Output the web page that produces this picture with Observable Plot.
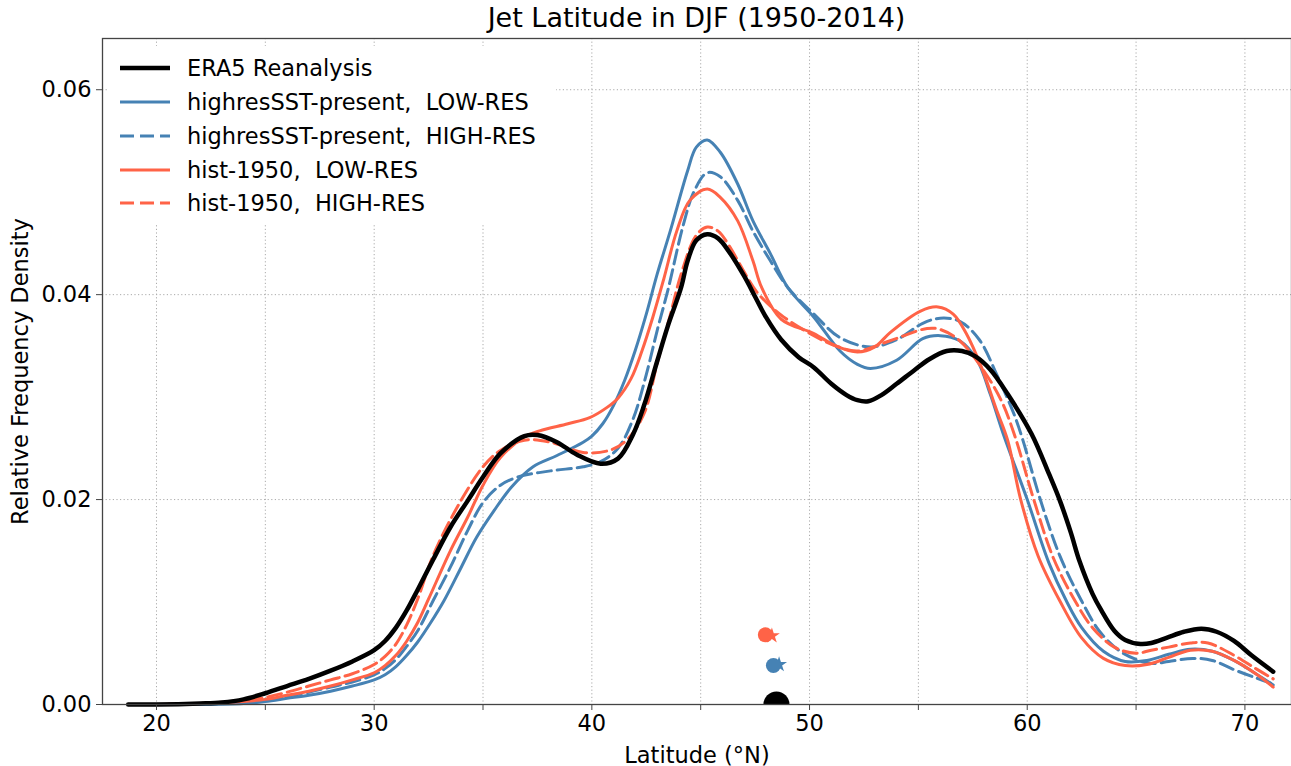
<!DOCTYPE html>
<html><head><meta charset="utf-8">
<script src="https://cdn.jsdelivr.net/npm/d3@7"></script>
<script src="https://cdn.jsdelivr.net/npm/@observablehq/plot@0.6"></script>
<style>
html,body{margin:0;padding:0;background:#fff;}
#wrap{position:relative;width:1291px;height:766px;font-family:"DejaVu Sans",sans-serif;color:#000;overflow:hidden;}
#title{position:absolute;left:102px;width:1189px;top:4px;text-align:center;font-size:27px;line-height:28px;white-space:pre;}
#legend{position:absolute;left:108px;top:46px;width:448px;height:178px;background:#fff;}
.row{position:absolute;left:0;height:24px;font-size:22.5px;line-height:24px;white-space:pre;}
.row svg{position:absolute;left:12px;top:7px;}
.row span{position:absolute;left:79px;top:0;}
</style></head><body>
<div id="wrap"><div id="plot"></div><div id="title">Jet Latitude in DJF (1950-2014)</div><div id="legend"></div></div>
<script>
// ---- data: [latitude (°N), relative frequency density] ----
const era5 = [[18.7,0],[20,0],[22,0.0001],[23,0.0002],[24,0.0005],[25,0.0011],[26,0.0018],[27,0.0025],[28,0.0033],[29,0.0042],[30,0.0053],[30.5,0.0062],[31,0.0075],[31.5,0.0092],[32,0.0112],[32.7,0.0141],[33.5,0.0173],[34.3,0.0199],[35,0.0222],[35.8,0.0245],[36.9,0.0262],[37.5,0.0263],[38.4,0.0256],[39.3,0.0244],[40.4,0.0235],[41.2,0.024],[41.9,0.0264],[42.4,0.0292],[43,0.0335],[43.5,0.037],[44.1,0.0407],[44.4,0.0433],[44.8,0.0453],[45.3,0.0459],[45.8,0.0455],[46.3,0.0442],[47,0.0418],[47.5,0.0398],[48,0.0378],[48.7,0.0356],[49.5,0.0339],[50.2,0.0329],[51,0.0313],[51.7,0.0302],[52.2,0.0297],[52.7,0.0296],[53.3,0.0302],[54,0.0313],[54.8,0.0326],[55.5,0.0337],[56.3,0.0345],[57,0.0345],[57.6,0.034],[58.3,0.0327],[59.1,0.0303],[60.2,0.0264],[61,0.0225],[61.5,0.0199],[62,0.0168],[62.4,0.014],[63,0.0108],[63.4,0.0092],[64,0.0072],[64.5,0.0063],[65.2,0.0059],[65.7,0.006],[66.4,0.0065],[67.2,0.0071],[68,0.0074],[68.7,0.0071],[69.5,0.0062],[70.3,0.0048],[71.3,0.0032]];
const hsLow = [[18.7,0],[20,0],[22,0],[24,0.0001],[25,0.0003],[26,0.0006],[27,0.0009],[28,0.0013],[29,0.0018],[30,0.0024],[30.5,0.0029],[31,0.0037],[31.5,0.0048],[32,0.0061],[32.6,0.008],[33.2,0.0101],[34,0.0134],[34.7,0.0163],[35.5,0.0189],[36.3,0.0212],[37.3,0.0232],[38.4,0.0243],[39.6,0.0256],[40,0.0262],[40.5,0.0274],[41,0.0292],[41.5,0.0316],[42,0.0346],[42.5,0.0381],[43,0.042],[43.6,0.0462],[44.4,0.0521],[44.8,0.0544],[45.3,0.0551],[45.9,0.0539],[46.7,0.0508],[47.4,0.0472],[48.2,0.044],[49,0.0407],[50.2,0.0378],[51.4,0.0345],[52.2,0.0332],[52.8,0.0328],[54,0.0336],[55.2,0.0357],[56,0.036],[56.9,0.0355],[57.7,0.0336],[58.3,0.0303],[58.9,0.0264],[60,0.02],[61,0.0138],[61.8,0.0101],[62.5,0.0075],[63.5,0.0052],[64.5,0.0042],[65.5,0.0043],[66.5,0.0049],[67.5,0.0054],[68.5,0.0052],[69.5,0.0043],[70.5,0.003],[71.3,0.0019]];
const hsHigh = [[18.7,0],[20,0],[22,0.0001],[24,0.0002],[25,0.0004],[26,0.0008],[27,0.0012],[28,0.0017],[29,0.0022],[30,0.0029],[30.5,0.0035],[31,0.0044],[31.5,0.0057],[32,0.0072],[32.7,0.0101],[33.5,0.0134],[34.3,0.017],[35,0.0197],[35.8,0.0214],[36.6,0.0222],[38.1,0.0228],[39.6,0.0232],[40.4,0.0237],[41.2,0.025],[41.9,0.0279],[42.5,0.0322],[43,0.0365],[43.5,0.0405],[44.2,0.0468],[44.7,0.0501],[45.3,0.0519],[45.9,0.0515],[46.7,0.0492],[47.4,0.0462],[48.2,0.0433],[49,0.0407],[50.2,0.0381],[51.4,0.0358],[52.8,0.0349],[54,0.0356],[55.2,0.0372],[56,0.0377],[56.9,0.0374],[57.8,0.0356],[58.6,0.0322],[59.4,0.0283],[59.8,0.0258],[60.6,0.02],[61.5,0.0145],[62.5,0.0101],[63.3,0.0072],[64.2,0.0053],[65,0.0044],[65.7,0.004],[66.5,0.0042],[67.6,0.0045],[68.5,0.0043],[69.5,0.0034],[70.5,0.0026],[71.3,0.002]];
const h50Low = [[18.7,0],[20,0],[22,0.0001],[24,0.0003],[25,0.0005],[26,0.0009],[27,0.0013],[28,0.0018],[29,0.0024],[30,0.0031],[30.5,0.0038],[31,0.0048],[31.5,0.0062],[32,0.008],[32.5,0.0103],[33.5,0.015],[34.3,0.0183],[35,0.0214],[35.8,0.0241],[36.9,0.0261],[37.6,0.0267],[38.9,0.0274],[39.9,0.028],[40.7,0.029],[41.2,0.0299],[41.8,0.0318],[42.3,0.0345],[42.8,0.0378],[43.3,0.0415],[43.9,0.0462],[44.5,0.0492],[45.3,0.0503],[45.9,0.0495],[46.7,0.0472],[47.4,0.0433],[47.8,0.0407],[48.7,0.0376],[50.2,0.0362],[51.2,0.035],[52.2,0.0344],[53,0.0349],[53.7,0.0363],[55.1,0.0384],[55.9,0.0388],[56.6,0.0381],[57.2,0.0362],[57.9,0.0329],[58.6,0.0287],[59.1,0.0258],[59.7,0.02],[60.5,0.0145],[61.5,0.0101],[62.5,0.0065],[63.5,0.0045],[64.5,0.0038],[65.5,0.0039],[66.5,0.0046],[67.5,0.0053],[68.5,0.0052],[69.5,0.0043],[70.5,0.003],[71.3,0.0017]];
const h50High = [[18.7,0],[20,0],[22,0.0001],[24,0.0004],[25,0.0007],[26,0.0012],[27,0.0018],[28,0.0024],[29,0.003],[30,0.0039],[30.5,0.0047],[31,0.0059],[31.5,0.0078],[32,0.0103],[32.7,0.0145],[33.8,0.0192],[35,0.0232],[35.8,0.0248],[36.9,0.0258],[38.1,0.0256],[39.6,0.0246],[40.8,0.0248],[41.6,0.0258],[42.4,0.0284],[43,0.0333],[43.6,0.038],[44.1,0.042],[44.8,0.0458],[45.3,0.0466],[45.8,0.0462],[46.3,0.0448],[47,0.0422],[47.6,0.0402],[48.7,0.038],[50.2,0.036],[51.2,0.035],[52.2,0.0345],[53.7,0.0355],[55.4,0.0367],[56,0.0366],[56.9,0.0355],[57.9,0.0329],[58.8,0.0297],[59.4,0.0264],[60.3,0.02],[61.2,0.0143],[62.2,0.0101],[63,0.0075],[64,0.0056],[65,0.005],[65.7,0.0053],[66.5,0.0056],[67.5,0.006],[68.3,0.006],[69.5,0.0048],[70.5,0.0035],[71.3,0.0025]];
// mean jet latitude markers
const era5Mean = [48.48, 0];
const hsLowMean = [48.34, 0.0038];
const hsHighMean = [48.6, 0.0039];
const h50LowMean = [47.97, 0.0068];
const h50HighMean = [48.27, 0.0067];
// ticks & labels
const xTicks = [20,25,30,35,40,45,50,55,60,65,70];
const yTicks = [0,0.02,0.04,0.06];
const legendLabels = ["ERA5 Reanalysis","highresSST-present,  LOW-RES","highresSST-present,  HIGH-RES","hist-1950,  LOW-RES","hist-1950,  HIGH-RES"];

const BLUE = "steelblue", RED = "tomato", DASH = "14,6";
const X = d => d[0], Y = d => d[1];
const lineOpts = (stroke, dashed, w=3) => ({x:X, y:Y, stroke, strokeWidth:w, curve:"catmull-rom", strokeDasharray: dashed ? DASH : null});

const chart = Plot.plot({
  width:1291, height:766, marginLeft:102, marginRight:0, marginTop:38, marginBottom:62,
  style:{fontFamily:'"DejaVu Sans", sans-serif', fontSize:"22.5px", background:"#fff", color:"#000", overflow:"visible"},
  x:{domain:[17.52,72.14]},
  y:{domain:[0,0.065]},
  marks:[
    Plot.gridX(xTicks, {stroke:"#aaa", strokeOpacity:1, strokeDasharray:"1.2,2.4", strokeWidth:1}),
    Plot.gridY(yTicks.slice(1), {stroke:"#aaa", strokeOpacity:1, strokeDasharray:"1.2,2.4", strokeWidth:1}),
    Plot.line(hsLow, lineOpts(BLUE,false)),
    Plot.line(hsHigh, lineOpts(BLUE,true)),
    Plot.line(h50Low, lineOpts(RED,false)),
    Plot.line(h50High, lineOpts(RED,true)),
    Plot.line(era5, lineOpts("black",false,4.5)),
    Plot.dot([hsHighMean], {x:X, y:Y, symbol:"star", r:5, fill:BLUE, stroke:"none"}),
    Plot.dot([h50HighMean], {x:X, y:Y, symbol:"star", r:5, fill:RED, stroke:"none"}),
    Plot.dot([hsLowMean], {x:X, y:Y, r:7.5, fill:BLUE, stroke:"none"}),
    Plot.dot([h50LowMean], {x:X, y:Y, r:7.5, fill:RED, stroke:"none"}),
    Plot.dot([era5Mean], {x:X, y:Y, r:13, fill:"black", stroke:"none", clip:true}),
    Plot.frame({stroke:"#444", strokeWidth:1.3}),
    Plot.axisX(xTicks, {tickSize:6, tickPadding:5, stroke:"#444", tickFormat: d => d % 10 === 0 ? String(d) : "",
      label:"Latitude (°N)", labelAnchor:"center", labelArrow:"none", labelOffset:58}),
    Plot.axisY(yTicks, {tickSize:6, tickPadding:5, stroke:"#444", tickFormat: d3.format(".2f"),
      label:"Relative Frequency Density", labelAnchor:"center", labelArrow:"none", labelOffset:90})
  ]
});
document.getElementById("plot").appendChild(chart);

// legend
const legStyles = [["black",4.5,false],[BLUE,3,false],[BLUE,3,true],[RED,3,false],[RED,3,true]];
const leg = document.getElementById("legend");
legendLabels.forEach((lab,i) => {
  const [c,w,d] = legStyles[i];
  const row = document.createElement("div");
  row.className = "row";
  row.style.top = (10.3 + 33.75*i) + "px";
  row.style.width = "440px";
  row.innerHTML = `<svg width="50" height="10"><line x1="0" x2="50" y1="5" y2="5" stroke="${c}" stroke-width="${w}" ${d ? `stroke-dasharray="${DASH}"` : ""}/></svg><span></span>`;
  row.querySelector("span").textContent = lab;
  leg.appendChild(row);
});
</script>
</body></html>
